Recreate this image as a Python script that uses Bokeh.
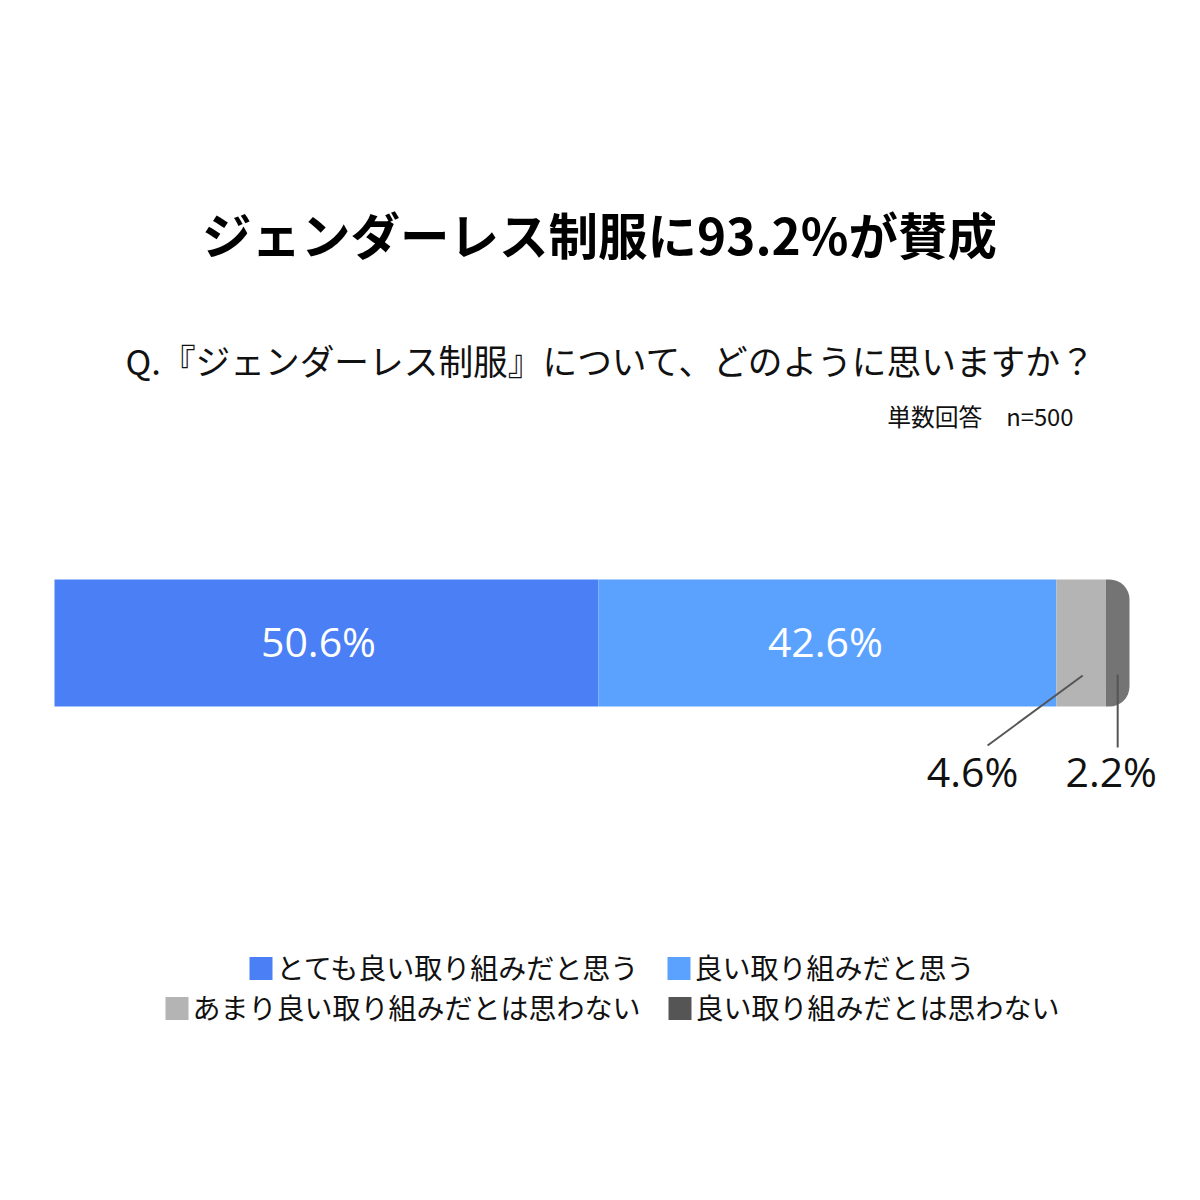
from bokeh.plotting import figure
from bokeh.models import Range1d, Label
from bokeh.embed import file_html
from bokeh.resources import INLINE

title = "ジェンダーレス制服に93.2%が賛成"
question = "Q.『ジェンダーレス制服』について、どのように思いますか？"
note = "単数回答　n=500"
categories = ["とても良い取り組みだと思う", "良い取り組みだと思う",
              "あまり良い取り組みだとは思わない", "良い取り組みだとは思わない"]
values = [50.6, 42.6, 4.6, 2.2]
bar_colors = ["#4A7FF6", "#5BA2FF", "#B4B4B4", "#747474"]
legend_colors = ["#4A7FF6", "#5BA2FF", "#B4B4B4", "#555555"]

W = H = 1184
px_per_pct = 10.75
x0 = -54 / px_per_pct
p = figure(width=W, height=H, output_backend="svg", toolbar_location=None,
           x_range=Range1d(x0, x0 + W / px_per_pct), y_range=Range1d(H, 0),
           min_border=0, outline_line_color=None)
p.axis.visible = False
p.grid.visible = False
p.background_fill_color = "white"

# stacked bar
lefts, rights = [], []
acc = 0
for v in values:
    lefts.append(acc)
    acc += v
    rights.append(acc)
bar_y = 642.5
for i, (l, r, c) in enumerate(zip(lefts, rights, bar_colors)):
    br = (0, 20, 20, 0) if i == len(values) - 1 else 0
    p.hbar(y=[bar_y], left=[l], right=[r], height=127, fill_color=c,
           line_color=None, border_radius=br)

CJK = "Noto Sans CJK JP"
NUMF = "Open Sans"
NUMSIZE = "41px"

# inside labels
inside_shift = [-8, -2]
for i in range(2):
    mid = (lefts[i] + rights[i]) / 2 + inside_shift[i] / px_per_pct
    p.add_layout(Label(x=mid, y=640, text=f"{values[i]}%", text_align="center",
                       text_baseline="middle", text_color="white",
                       text_font=NUMF, text_font_size=NUMSIZE))

# leader lines and outside labels
mid3 = (lefts[2] + rights[2]) / 2
mid4 = (lefts[3] + rights[3]) / 2
p.line(x=[mid3 + 0.15, mid3 - 8.7], y=[675, 745], line_color="#555555", line_width=2)
p.line(x=[mid4, mid4], y=[674, 747], line_color="#555555", line_width=2)
p.add_layout(Label(x=mid3 - 10.1, y=770, text=f"{values[2]}%", text_align="center",
                   text_baseline="middle", text_color="#111111",
                   text_font=NUMF, text_font_size=NUMSIZE))
p.add_layout(Label(x=mid4 - 0.6, y=770, text=f"{values[3]}%", text_align="center",
                   text_baseline="middle", text_color="#111111",
                   text_font=NUMF, text_font_size=NUMSIZE))

def xpx(px):
    return x0 + px / px_per_pct

# titles
p.add_layout(Label(x=xpx(599), y=233, text=title, text_align="center",
                   text_baseline="middle", text_font=CJK, text_font_style="bold",
                   text_font_size="49.5px", text_color="black"))
p.add_layout(Label(x=xpx(125), y=359, text=question, text_align="left",
                   text_baseline="middle", text_font=CJK,
                   text_font_size="34.7px", text_color="#111111"))
p.add_layout(Label(x=xpx(1073), y=415, text=note, text_align="right",
                   text_baseline="middle", text_font=CJK,
                   text_font_size="23.8px", text_color="#111111"))

# legend
leg_pos = [(249, 968), (667, 968), (165, 1008), (668, 1008)]
for (lx, ly), c, t in zip(leg_pos, legend_colors, categories):
    p.rect(x=[xpx(lx + 11.5)], y=[ly], width=23 / px_per_pct, height=23,
           fill_color=c, line_color=None)
    p.add_layout(Label(x=xpx(lx + 27), y=ly - 1.5, text=t, text_align="left",
                       text_baseline="middle", text_font=CJK,
                       text_font_size="28px", text_color="#111111"))

open("out.html", "w").write(file_html(p, INLINE))
